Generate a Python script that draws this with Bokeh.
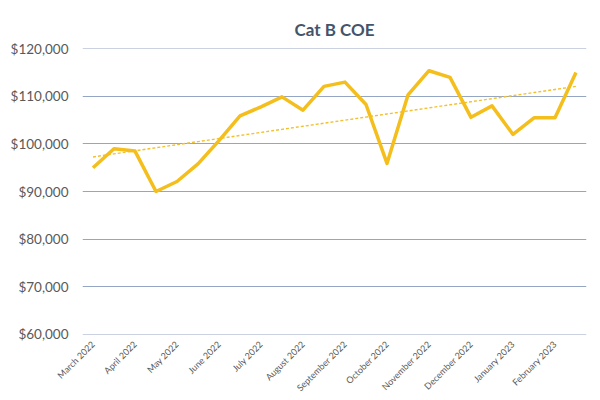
import numpy as np
from bokeh.plotting import figure
from bokeh.models import FixedTicker, NumeralTickFormatter, ColumnDataSource, Range1d
from bokeh.embed import file_html
from bokeh.resources import INLINE

month_labels = ["March 2022", "April 2022", "May 2022", "June 2022", "July 2022",
                "August 2022", "September 2022", "October 2022", "November 2022",
                "December 2022", "January 2023", "February 2023"]
coe_values = [95000, 99000, 98500, 90000, 92100, 95800, 100700, 105900,
              107800, 109900, 107100, 112100, 113000, 108300, 95900, 110300,
              115400, 114000, 105600, 108000, 102000, 105500, 105500, 115000]
y_ticks = [60000, 70000, 80000, 90000, 100000, 110000, 120000]

x = list(range(len(coe_values)))
slope, intercept = np.polyfit(x, coe_values, 1)
trend = [slope * i + intercept for i in x]

p = figure(width=600, height=400, output_backend="svg", toolbar_location=None,
           x_range=Range1d(-0.5, len(coe_values) - 0.5), y_range=Range1d(59930, 120070),
           min_border_left=82, min_border_right=14, min_border_top=48, min_border_bottom=66)
p.outline_line_color = None
p.border_fill_color = "white"
p.background_fill_color = "white"

p.title.text = "Cat B COE"
p.title.align = "center"
p.title.offset = -36
p.title.standoff = 17
p.title.text_font = "Lato"
p.title.text_font_size = "17px"
p.title.text_color = "#44546A"
p.title.text_font_style = "bold"

src = ColumnDataSource(dict(x=x, y=coe_values, t=trend))
p.line("x", "t", source=src, line_color="#F2C12E", line_width=1.4, line_dash="3 2")
p.line("x", "y", source=src, line_color="#F4BE1C", line_width=3.5, line_join="round")

p.yaxis.ticker = FixedTicker(ticks=y_ticks)
p.yaxis.formatter = NumeralTickFormatter(format="$0,0")
p.yaxis.axis_line_color = None
p.yaxis.major_tick_line_color = None
p.yaxis.minor_tick_line_color = None
p.yaxis.major_tick_out = 0
p.yaxis.major_label_text_font = "Lato"
p.yaxis.major_label_text_font_size = "13.5px"
p.yaxis.major_label_text_color = "#595959"
p.yaxis.major_label_standoff = 14

p.xaxis.ticker = FixedTicker(ticks=list(range(0, len(coe_values), 2)))
p.xaxis.major_label_overrides = {i * 2: lab for i, lab in enumerate(month_labels)}
p.xaxis.major_label_orientation = np.pi / 4
p.xaxis.axis_line_color = None
p.xaxis.major_tick_line_color = None
p.xaxis.minor_tick_line_color = None
p.xaxis.major_tick_out = 0
p.xaxis.major_label_text_font = "Lato"
p.xaxis.major_label_text_font_size = "9px"
p.xaxis.major_label_text_color = "#595959"
p.xaxis.major_label_standoff = 8

p.xgrid.grid_line_color = None
p.ygrid.grid_line_color = "#95A6C4"
p.ygrid.grid_line_width = 1

open("out.html", "w").write(file_html(p, INLINE))
